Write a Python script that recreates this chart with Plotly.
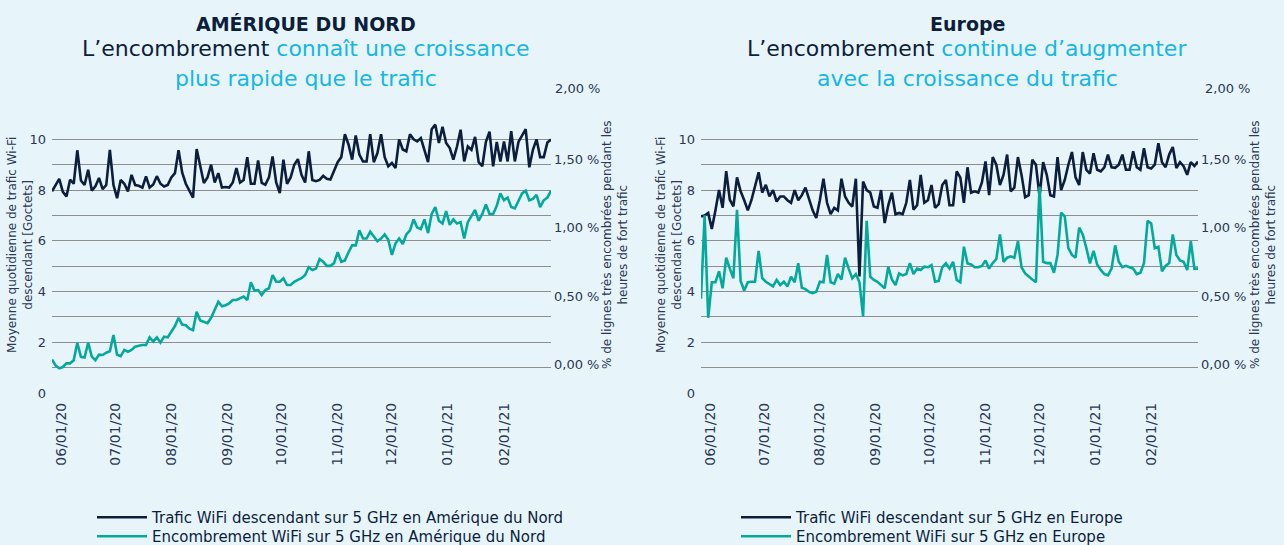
import pandas as pd
import plotly.graph_objects as go

# ---------------- data ----------------
dates = pd.date_range("2020-05-27", "2021-02-27", freq="2D")

na_traffic = [7.95, 8.2, 8.44, 7.93, 7.75, 8.41, 8.25, 9.57, 8.38, 8.2,
              8.8, 7.98, 8.15, 8.48, 8.04, 8.2, 9.59, 8.2, 7.68, 8.4,
              8.25, 7.95, 8.6, 8.2, 8.17, 8.1, 8.54, 8.1, 8.22, 8.55,
              8.25, 8.14, 8.2, 8.5, 8.67, 9.57, 8.7, 8.25, 8.0, 7.7,
              9.62, 8.9, 8.28, 8.5, 9.0, 8.3, 8.67, 8.1, 8.12, 8.1,
              8.3, 8.87, 8.3, 8.4, 9.3, 8.25, 8.25, 9.17, 8.28, 8.21,
              8.5, 9.33, 8.3, 7.88, 9.2, 8.25, 8.5, 9.0, 9.22, 8.6,
              8.3, 9.53, 8.4, 8.35, 8.4, 8.56, 8.45, 8.42, 8.8, 9.1,
              9.3, 10.2, 9.8, 9.2, 10.15, 9.4, 9.13, 9.13, 10.2, 9.1,
              9.46, 10.2, 9.3, 8.94, 9.07, 8.87, 10.0, 9.6, 9.53, 10.2,
              10.0, 9.92, 10.05, 9.6, 9.1, 10.4, 10.58, 9.86, 10.5, 9.86,
              9.66, 9.2, 9.72, 10.38, 9.13, 9.72, 9.59, 10.1, 9.1, 8.94,
              9.9, 10.3, 8.94, 9.9, 9.13, 9.92, 9.13, 10.32, 9.13, 9.9,
              10.14, 10.4, 8.9, 9.59, 10.0, 9.3, 9.3, 9.88, 9.99]

na_congestion = [0.035, -0.01, -0.03, -0.02, 0.007, 0.007, 0.03, 0.158, 0.055, 0.05,
                 0.158, 0.056, 0.03, 0.07, 0.068, 0.085, 0.095, 0.214, 0.07, 0.06,
                 0.105, 0.092, 0.105, 0.129, 0.135, 0.141, 0.141, 0.197, 0.166, 0.197,
                 0.158, 0.202, 0.197, 0.24, 0.28, 0.34, 0.29, 0.286, 0.26, 0.25,
                 0.385, 0.32, 0.31, 0.3, 0.34, 0.4, 0.458, 0.425, 0.432, 0.446,
                 0.47, 0.47, 0.482, 0.495, 0.47, 0.6, 0.54, 0.543, 0.507, 0.543,
                 0.556, 0.653, 0.604, 0.604, 0.629, 0.58, 0.58, 0.604, 0.617, 0.63,
                 0.653, 0.71, 0.69, 0.70, 0.77, 0.75, 0.72, 0.72, 0.74, 0.82,
                 0.75, 0.76, 0.82, 0.87, 0.87, 0.98, 0.92, 0.92, 0.97, 0.93,
                 0.9, 0.92, 0.95, 0.91, 0.8, 0.885, 0.92, 0.88, 0.95, 0.98,
                 1.06, 1.0, 0.99, 1.06, 0.96, 1.1, 1.15, 1.05, 1.03, 1.12,
                 1.02, 1.06, 1.03, 1.04, 0.92, 1.04, 1.09, 1.13, 1.05, 1.1,
                 1.17, 1.1, 1.1, 1.16, 1.25, 1.2, 1.22, 1.15, 1.14, 1.19,
                 1.25, 1.27, 1.2, 1.21, 1.24, 1.15, 1.2, 1.22, 1.27]

eu_traffic = [6.96, 7.0, 7.1, 6.47, 7.2, 8.0, 7.3, 8.75, 7.62, 7.36,
              8.5, 7.95, 7.6, 7.2, 7.6, 8.2, 8.7, 7.9, 8.21, 7.75,
              8.0, 7.55, 7.75, 7.75, 7.6, 7.5, 8.0, 7.6, 7.8, 8.1,
              7.62, 7.2, 6.9, 7.6, 8.45, 7.5, 7.05, 7.3, 7.2, 8.45,
              7.75, 7.5, 7.35, 8.45, 4.6, 8.34, 8.0, 7.9, 7.35, 7.3,
              8.0, 6.7, 7.4, 7.9, 7.05, 7.1, 7.05, 7.5, 8.4, 7.23,
              7.4, 8.6, 7.5, 7.6, 8.2, 7.3, 7.45, 8.2, 8.4, 7.4,
              7.4, 8.74, 8.5, 7.5, 8.9, 7.9, 7.95, 7.9, 8.3, 9.13,
              7.8, 9.3, 9.0, 8.2, 8.6, 9.4, 7.95, 8.1, 9.3, 8.6,
              7.72, 7.8, 9.2, 9.0, 7.75, 9.1, 8.6, 7.8, 7.75, 9.3,
              8.0, 8.4, 9.0, 9.5, 8.5, 8.2, 9.5, 8.8, 8.65, 9.45,
              8.8, 8.74, 8.9, 9.4, 8.9, 8.88, 9.0, 9.4, 8.8, 8.8,
              9.53, 8.9, 8.8, 9.65, 8.9, 8.85, 9.0, 9.85, 9.1, 8.9,
              9.4, 9.7, 8.87, 9.1, 8.94, 8.6, 9.1, 8.95, 9.13]

eu_congestion = [0.48, 1.09, 0.34, 0.6, 0.6, 0.68, 0.556, 0.78, 0.7, 0.63,
                 1.13, 0.61, 0.54, 0.6, 0.604, 0.604, 0.83, 0.63, 0.604, 0.59,
                 0.57, 0.617, 0.58, 0.604, 0.57, 0.64, 0.6, 0.74, 0.56, 0.55,
                 0.53, 0.52, 0.53, 0.604, 0.6, 0.8, 0.6, 0.59, 0.66, 0.62,
                 0.78, 0.7, 0.63, 0.66, 0.6, 0.35, 1.05, 0.64, 0.617, 0.604,
                 0.58, 0.556, 0.714, 0.62, 0.58, 0.665, 0.65, 0.66, 0.74, 0.66,
                 0.7, 0.69, 0.714, 0.71, 0.726, 0.604, 0.61, 0.71, 0.738, 0.7,
                 0.75, 0.617, 0.6, 0.86, 0.738, 0.73, 0.71, 0.71, 0.72, 0.76,
                 0.70, 0.74, 0.77, 0.95, 0.75, 0.78, 0.79, 0.78, 0.9, 0.71,
                 0.665, 0.64, 0.62, 0.6, 1.3, 0.75, 0.74, 0.74, 0.67, 0.8,
                 1.11, 1.08, 0.85, 0.8, 0.78, 1.0, 0.95, 0.85, 0.738, 0.83,
                 0.73, 0.69, 0.66, 0.65, 0.7, 0.87, 0.75, 0.71, 0.72, 0.71,
                 0.7, 0.66, 0.67, 0.74, 1.05, 1.03, 0.85, 0.86, 0.68, 0.72,
                 0.74, 0.95, 0.8, 0.76, 0.75, 0.69, 0.9, 0.7, 0.7]

left_ticks = [0, 1, 2, 3, 4, 5, 6, 7, 8, 9, 10, 11]
left_ticktext = ["0", "", "2", "", "4", "", "6", "", "8", "", "10", ""]
right_ticks = [0, 0.5, 1.0, 1.5]
right_ticktext = ["0,00 %", "0,50 %", "1,00 %", "1,50 %"]

# ---------------- style ----------------
W, H = 1284, 545
BG = "#e7f5fb"
DARK = "#0d1e3c"
TEAL = "#05a99c"
CYAN = "#16b6e6"
TXT = "#2b3754"
GRID = "#8e8e8e"
FONT = "DejaVu Sans"


def px(x):
    return x / W


def py(y):
    return 1 - y / H


ydom = [py(393), py(114)]
x1dom = [px(52), px(551)]
x2dom = [px(701), px(1198)]

fig = go.Figure()

fig.add_trace(go.Scatter(x=dates, y=na_traffic, mode="lines", xaxis="x", yaxis="y",
                         line=dict(color=DARK, width=2.6),
                         name="Trafic WiFi descendant sur 5 GHz en Amérique du Nord",
                         legend="legend"))
fig.add_trace(go.Scatter(x=dates, y=na_congestion, mode="lines", xaxis="x", yaxis="y2",
                         line=dict(color=TEAL, width=2.6),
                         name="Encombrement WiFi sur 5 GHz en Amérique du Nord",
                         legend="legend2"))
fig.add_trace(go.Scatter(x=dates, y=eu_traffic, mode="lines", xaxis="x2", yaxis="y3",
                         line=dict(color=DARK, width=2.6),
                         name="Trafic WiFi descendant sur 5 GHz en Europe",
                         legend="legend3"))
fig.add_trace(go.Scatter(x=dates, y=eu_congestion, mode="lines", xaxis="x2", yaxis="y4",
                         line=dict(color=TEAL, width=2.6),
                         name="Encombrement WiFi sur 5 GHz en Europe",
                         legend="legend4"))

xcommon = dict(type="date", range=["2020-05-27", "2021-02-27"], tick0="2020-06-01",
               dtick="M1", tickformat="%m/%d/%y", tickangle=-90, showgrid=False,
               zeroline=False, showline=False, ticks="", automargin=False,
               ticklabelstandoff=6,
               tickfont=dict(family=FONT, size=14, color=TXT))
yleft = dict(range=[0, 11], tickvals=left_ticks, ticktext=left_ticktext, showgrid=True,
             gridcolor=GRID, gridwidth=1.3, zeroline=False, showline=False, ticks="",
             automargin=False, ticklabelstandoff=5,
             tickfont=dict(family=FONT, size=13, color=TXT), domain=ydom)
yright = dict(range=[-0.21, 1.831], tickvals=right_ticks, ticktext=right_ticktext,
              showgrid=False, zeroline=False, showline=False, ticks="", side="right",
              automargin=False, ticklabelstandoff=2,
              tickfont=dict(family=FONT, size=13, color=TXT))

fig.update_layout(
    xaxis=dict(domain=x1dom, anchor="y", **xcommon),
    xaxis2=dict(domain=x2dom, anchor="y3", **xcommon),
    yaxis=dict(anchor="x", **yleft),
    yaxis2=dict(anchor="x", overlaying="y", **yright),
    yaxis3=dict(anchor="x2", **yleft),
    yaxis4=dict(anchor="x2", overlaying="y3", **yright),
)

ann = []
titles = [
    (306, "AMÉRIQUE DU NORD",
     "L’encombrement <span style='color:%s'>connaît une croissance</span>" % CYAN,
     "plus rapide que le trafic"),
    (967, "Europe",
     "L’encombrement <span style='color:%s'>continue d’augmenter</span>" % CYAN,
     "avec la croissance du trafic"),
]
for cx, title, sub1, sub2 in titles:
    ann.append(dict(x=px(cx), y=py(24), xref="paper", yref="paper", text="<b>%s</b>" % title,
                    showarrow=False, xanchor="center", yanchor="middle",
                    font=dict(family=FONT, size=19, color=DARK)))
    ann.append(dict(x=px(cx), y=py(49), xref="paper", yref="paper", text=sub1,
                    showarrow=False, xanchor="center", yanchor="middle",
                    font=dict(family=FONT, size=22, color=DARK)))
    ann.append(dict(x=px(cx), y=py(78), xref="paper", yref="paper", text=sub2,
                    showarrow=False, xanchor="center", yanchor="middle",
                    font=dict(family=FONT, size=22, color=CYAN)))

# axis titles
ytitle = "Moyenne quotidienne de trafic Wi-Fi<br>descendant [Goctets]"
y2title = "% de lignes très encombrées pendant les<br>heures de fort trafic"
for cx, t in [(20, ytitle), (669, ytitle), (615, y2title), (1263, y2title)]:
    ann.append(dict(x=px(cx), y=py(245), xref="paper", yref="paper", text=t,
                    textangle=-90, showarrow=False, xanchor="center", yanchor="middle",
                    align="center", font=dict(family=FONT, size=12, color=TXT)))

# top label of the secondary axis
for lx in (553, 1203):
    ann.append(dict(x=px(lx), y=py(89), xref="paper", yref="paper", text="2,00 %",
                    showarrow=False, xanchor="left", yanchor="middle",
                    font=dict(family=FONT, size=13, color=TXT)))

leg_common = dict(xanchor="left", yanchor="top", bgcolor="rgba(0,0,0,0)",
                  font=dict(family=FONT, size=15, color=DARK), itemwidth=50)

fig.update_layout(
    width=W, height=H, autosize=False,
    margin=dict(l=0, r=0, t=0, b=0, autoexpand=False),
    paper_bgcolor=BG, plot_bgcolor=BG,
    font=dict(family=FONT, color=TXT),
    annotations=ann,
    legend=dict(x=px(92), y=py(501), **leg_common),
    legend2=dict(x=px(92), y=py(520), **leg_common),
    legend3=dict(x=px(736), y=py(501), **leg_common),
    legend4=dict(x=px(736), y=py(520), **leg_common),
    showlegend=True,
)

fig.write_html("out.html", config={"displayModeBar": False},
               post_script="document.body.style.margin='0';"
                           "document.body.style.background='%s';" % BG)
